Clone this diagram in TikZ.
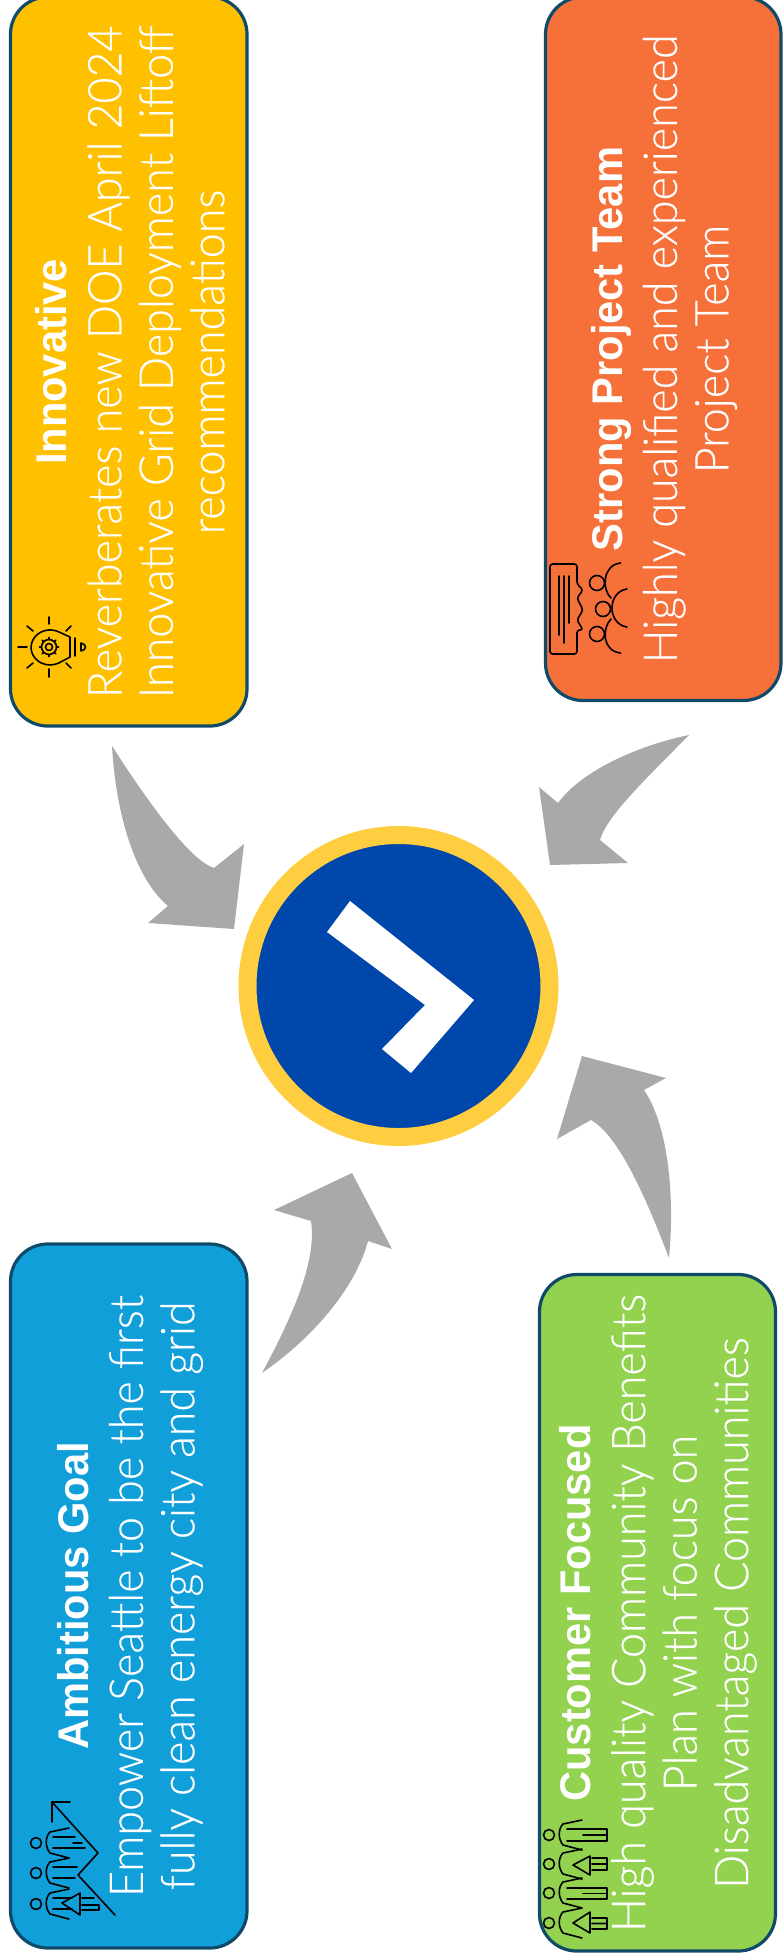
\documentclass[tikz,border=0pt]{standalone}
\usepackage{fontspec}
\usetikzlibrary{calc}
\setmainfont{Lato Light}[FakeStretch=.96,FakeBold=.3]
\newfontfamily\headfont{Liberation Sans}[FakeStretch=.97]
\newcommand{\bodytext}{\fontsize{35}{38.6}\selectfont}
\newcommand{\headtext}{\headfont\bfseries\fontsize{32.2}{40}\selectfont}
\definecolor{cardedge}{HTML}{0F4B68}
\definecolor{cardyellow}{HTML}{FFC000}
\definecolor{cardorange}{HTML}{F6703A}
\definecolor{cardblue}{HTML}{119FD9}
\definecolor{cardgreen}{HTML}{92D24F}
\definecolor{hubgold}{HTML}{FFCD40}
\definecolor{hubblue}{HTML}{0047AB}
\definecolor{bentgray}{HTML}{A9A9A9}
\tikzset{
  cardbox/.style={rectangle,draw=cardedge,line width=2.4pt,rounded corners=28pt,inner sep=0pt,outer sep=0pt},
  cardtext/.style={rotate=90,align=center,text=white,font=\bodytext,inner sep=0pt},
  bent/.style={fill=bentgray},
  iconline/.style={draw=black,line width=1.2pt,line cap=round,line join=round},
}
% one person of the icons, given by the middle of the head
\newcommand{\personicon}[2]{
  \draw[iconline,shift={(#1,#2)}](0,0)circle(5.5)
    (33,-15)--(14,-11)..controls(9,-6)and(9,4)..(14,10)--(33,15);
}
\begin{document}
\begin{tikzpicture}[x=.75pt,y=-.75pt]
      \useasboundingbox(0,0)rectangle(784,1955);
      \node[cardbox,fill=cardyellow,minimum width=177.4pt,minimum height=546.8pt](innovative)at(128.75,361.5){};
      \node[cardbox,fill=cardorange,minimum width=176.6pt,minimum height=527.6pt](team)at(663.25,348.75){};
      \node[cardbox,fill=cardblue,minimum width=177.4pt,minimum height=528pt](goal)at(128.75,1596){};
      \node[cardbox,fill=cardgreen,minimum width=177pt,minimum height=507.4pt](customer)at(657.5,1612.75){};
      \node[cardtext](innovativetext)at(130,362){{\headtext Innovative}\\[2.5pt]Reverberates new DOE April 2024\\Innovative Grid Deployment Liftoff\\recommendations};
      \node[cardtext](teamtext)at(664,349){{\headtext Strong Project Team}\\[2.5pt]Highly qualified and experienced\\Project Team};
      \node[cardtext](goaltext)at(130,1596){{\headtext Ambitious Goal}\\[2.5pt]Empower Seattle to be the first\\fully clean energy city and grid};
      \node[cardtext](customertext)at(658,1613){{\headtext Customer Focused}\\[2.5pt]High quality Community Benefits\\Plan with focus on\\Disadvantaged Communities};
      % middle
      \node[circle,fill=hubblue,draw=hubgold,line width=13.5pt,minimum size=226.5pt,inner sep=0pt,outer sep=0pt](hub)at(398.5,986){};
      \fill[white](350,901)--(474,1000)--(411,1073)--(382,1049)--(425,1005)--(327,932)--cycle;
      % bent arrows
      \fill[bent](112,746)..controls(116,815)and(135,878)..(168,906)--(148,923)--(234,929)--(244,844)--(214,868)..controls(190,860)and(150,805)..(112,746)--cycle;
      \fill[bent](689,735)..controls(640,745)and(582,770)..(558,803)--(539,787)--(550,865)--(628,863)--(600,840)..controls(607,815)and(650,775)..(689,735)--cycle;
      \fill[bent](262,1373)..controls(285,1330)and(318,1265)..(311,1221)--(274,1210)--(352,1173)--(392,1249)--(368,1241)..controls(355,1290)and(310,1340)..(262,1373)--cycle;
      \fill[bent](669,1258)..controls(675,1195)and(668,1125)..(644,1090)--(666,1078)--(582,1056)--(557,1139)--(591,1120)..controls(618,1135)and(645,1195)..(669,1258)--cycle;
      % bulb
      \begin{scope}
        \draw[iconline](70,637)--(59,632)arc(-62:-298:19 and 17.5)--(70,657)--cycle (75,638)--(75,656)
          (81,643)..controls(87,644)and(87,650)..(81,651)--cycle
          (49,617)--(49,624) (49,669)--(49,677) (18,647)--(27,647)
          (27,626)--(33,631) (71,626)--(66,631) (27,668)--(33,663) (71,668)--(66,663);
        \draw[iconline](49,647)circle(3.5) (49,647)circle(7.5);
        \foreach \a in {0,45,...,315}{\draw[iconline]($(49,647)+(\a:7.5)$)--($(49,647)+(\a:9.5)$);}
      \end{scope}
      % team
      \begin{scope}
        \draw[iconline,rounded corners=2pt](577,584)--(577,564)--(550,564)--(550,654)--(577,654)--(577,630)--(583,630)--(577,620)--(583,610)--(577,598)--(583,590)--cycle;
        \draw[iconline](559,576)--(559,635) (564,576)--(564,643) (569,576)--(569,623);
        \draw[iconline](597,583)circle(7.5) (603,609)circle(7.5) (597,634)circle(7.5);
        \draw[iconline](620.6,563)..controls(602,565)and(602,590)..(611,598) (627,589)..controls(607,592)and(607,624)..(627,627) (620.6,653)..controls(602,651)and(602,628)..(611,619);
      \end{scope}
      % chart and plug
      \begin{scope}
        \personicon{36}{1843}
        \personicon{36}{1873}
        \personicon{36}{1904}
        \draw[iconline](115,1915)--(78,1875)--(98,1853)--(52,1802) (70,1802)--(52,1802)--(52,1822);
        \draw[iconline](53,1837)--(75,1837) (53,1848)--(85,1848) (73,1843)--(82,1843) (53,1867)--(77,1867) (53,1878)--(75,1878) (53,1898)--(72,1898) (53,1909)--(72,1909);
        \draw[iconline](80,1893)--(80,1915)--(62,1903)--cycle (82,1898)--(94,1898) (82,1905)--(99,1905)--(99,1910)--(82,1910);
      \end{scope}
      % people and plugs
      \begin{scope}
        \personicon{549}{1835}
        \personicon{549}{1864}
        \personicon{549}{1893}
        \personicon{549}{1923}
        \draw[iconline](567,1829)--(607,1829)--(607,1841)--(567,1841) (583,1835)--(607,1835) (567,1888)--(607,1888)--(607,1899)--(567,1899) (583,1893.5)--(607,1893.5);
        \draw[iconline](590,1856)--(590,1875)--(573,1865)--cycle (592,1858)--(607,1858)--(607,1870)--(592,1870) (592,1864)--(607,1864);
        \draw[iconline](590,1912)--(590,1933)--(573,1923)--cycle (592,1918)--(607,1918)--(607,1929)--(592,1929) (592,1923.5)--(607,1923.5);
      \end{scope}
    \end{tikzpicture}
\end{document}
